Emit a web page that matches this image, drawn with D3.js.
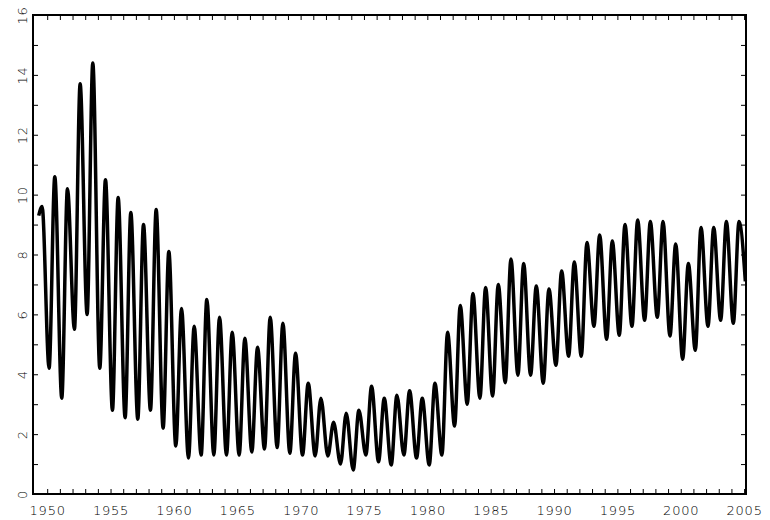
<!DOCTYPE html>
<html>
<head>
<meta charset="utf-8">
<script src="https://cdn.jsdelivr.net/npm/d3@7"></script>
<style>
  body { margin: 0; background: #fff; }
  text { font-family: "DejaVu Sans", sans-serif; font-size: 13px; letter-spacing: 0.8px; fill: #000; }
</style>
</head>
<body>
<div id="chart"></div>
<script>

// seasonal cycles: one peak and the following trough per year
var years = [1949, 1950, 1951, 1952, 1953, 1954, 1955, 1956, 1957, 1958,
             1959, 1960, 1961, 1962, 1963, 1964, 1965, 1966, 1967, 1968,
             1969, 1970, 1971, 1972, 1973, 1974, 1975, 1976, 1977, 1978,
             1979, 1980, 1981, 1982, 1983, 1984, 1985, 1986, 1987, 1988,
             1989, 1990, 1991, 1992, 1993, 1994, 1995, 1996, 1997, 1998,
             1999, 2000, 2001, 2002, 2003, 2004];

var peaks = [9.6, 10.6, 10.2, 13.7, 14.4, 10.5, 9.9, 9.4, 9.0, 9.5,
             8.1, 6.2, 5.6, 6.5, 5.9, 5.4, 5.2, 4.9, 5.9, 5.7,
             4.7, 3.7, 3.2, 2.4, 2.7, 2.8, 3.6, 3.2, 3.3, 3.45,
             3.2, 3.7, 5.4, 6.3, 6.7, 6.9, 7.0, 7.85, 7.7, 6.95,
             6.85, 7.45, 7.75, 8.4, 8.65, 8.45, 9.0, 9.15, 9.1, 9.1,
             8.35, 7.7, 8.9, 8.9, 9.1, 9.1];

var troughs = [4.2, 3.2, 5.5, 6.0, 4.2, 2.8, 2.55, 2.5, 2.8, 2.2,
               1.6, 1.2, 1.3, 1.3, 1.3, 1.3, 1.4, 1.5, 1.55, 1.36,
               1.3, 1.27, 1.27, 1.0, 0.8, 1.3, 1.08, 0.97, 1.3, 1.2,
               0.97, 1.3, 2.27, 3.0, 3.2, 3.27, 3.72, 3.97, 3.97, 3.7,
               4.3, 4.6, 4.6, 5.6, 5.17, 5.3, 5.6, 5.8, 5.9, 5.28,
               4.5, 4.8, 5.6, 5.8, 5.7];

// first and last observation
var firstPoint = { t: 1949.33, v: 9.3 };
var lastPoint = { t: 2005.1, v: 7.1 };

// time of year of the peak and of the next trough
var peakAt = 0.6;
var troughAt = 1.15;

var xTicks = d3.range(1950, 2006);
var yTicks = d3.range(0, 17);

var w = 770;
var h = 520;
var plotLeft = 33, plotRight = 746, plotTop = 15, plotBottom = 494;

var points = [firstPoint];
years.forEach(function(yr, i) {
    points.push({ t: yr + peakAt, v: peaks[i] });
    if (i < troughs.length) points.push({ t: yr + troughAt, v: troughs[i] });
});
points.push(lastPoint);

var x = d3.scaleLinear().domain([1948.88, 2005.15]).range([plotLeft, plotRight]);
var y = d3.scaleLinear().domain([0, 16]).range([plotBottom, plotTop]);

var svg = d3.select("#chart")
            .append("svg")
            .attr("width", w)
            .attr("height", h);

// bottom axis, ticks point inward
svg.append("g")
   .attr("transform", "translate(0," + plotBottom + ")")
   .call(d3.axisBottom(x).tickValues(xTicks).tickSize(-5).tickPadding(12)
         .tickFormat(function(d) { return d % 5 === 0 ? d : ""; }));

svg.append("g")
   .attr("transform", "translate(0," + plotTop + ")")
   .call(d3.axisTop(x).tickValues(xTicks).tickSize(-5).tickFormat(""));

// left axis with rotated labels
var yAxis = svg.append("g")
   .attr("transform", "translate(" + plotLeft + ",0)")
   .call(d3.axisLeft(y).tickValues(yTicks).tickSize(-5)
         .tickFormat(function(d) { return d % 2 === 0 ? d : ""; }));

yAxis.selectAll("text")
   .attr("x", null)
   .attr("dy", null)
   .attr("text-anchor", "middle")
   .attr("transform", "translate(-6,0) rotate(-90)");

svg.append("g")
   .attr("transform", "translate(" + plotRight + ",0)")
   .call(d3.axisRight(y).tickValues(yTicks).tickSize(-5).tickFormat(""));

svg.selectAll(".domain").remove();
svg.selectAll(".tick line").attr("stroke", "#000").attr("stroke-width", 1);
svg.selectAll(".tick text")
   .style("font-family", "DejaVu Sans")
   .style("font-size", "13px")
   .style("font-weight", "200")
   .attr("fill", "#111");

// frame
svg.append("rect")
   .attr("x", plotLeft)
   .attr("y", plotTop)
   .attr("width", plotRight - plotLeft)
   .attr("height", plotBottom - plotTop)
   .attr("fill", "none")
   .attr("stroke", "#000")
   .attr("stroke-width", 2);

var line = d3.line()
   .x(function(d) { return x(d.t); })
   .y(function(d) { return y(d.v); })
   .curve(d3.curveMonotoneX);

svg.append("path")
   .datum(points)
   .attr("d", line)
   .attr("fill", "none")
   .attr("stroke", "#000")
   .attr("stroke-width", 3.5)
   .attr("stroke-linejoin", "round");

</script>
</body>
</html>
